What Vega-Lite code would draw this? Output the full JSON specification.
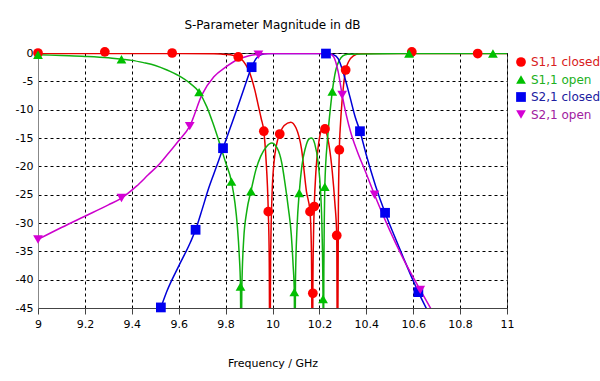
{
  "$schema": "https://vega.github.io/schema/vega-lite/v6.json",
  "width": 469,
  "height": 255,
  "autosize": "none",
  "padding": {"left": 38, "top": 53, "right": 93, "bottom": 73},
  "background": "white",
  "title": {"text": "S-Parameter Magnitude in dB", "anchor": "middle", "offset": 15, "fontSize": 12, "fontWeight": "normal", "font": "DejaVu Sans", "color": "#000"},
  "config": {
    "view": {"stroke": "#555", "strokeWidth": 1},
    "axis": {"labelFont": "DejaVu Sans", "titleFont": "DejaVu Sans", "labelFontSize": 11, "titleFontSize": 11, "titleFontWeight": "normal", "labelColor": "#000", "titleColor": "#000", "gridColor": "#000", "gridDash": [3, 3], "gridOpacity": 1, "gridWidth": 1}
  },
  "datasets": {
    "lines": [
      {"s": "S1,1 closed", "f": 9.0, "db": -0.1}, {"s": "S1,1 closed", "f": 9.3, "db": -0.1}, {"s": "S1,1 closed", "f": 9.6, "db": -0.1},
      {"s": "S1,1 closed", "f": 9.75, "db": -0.15}, {"s": "S1,1 closed", "f": 9.8, "db": -0.25}, {"s": "S1,1 closed", "f": 9.83, "db": -0.4},
      {"s": "S1,1 closed", "f": 9.854, "db": -0.7}, {"s": "S1,1 closed", "f": 9.87, "db": -1.2}, {"s": "S1,1 closed", "f": 9.885, "db": -2.0},
      {"s": "S1,1 closed", "f": 9.9, "db": -3.2}, {"s": "S1,1 closed", "f": 9.911, "db": -4.5}, {"s": "S1,1 closed", "f": 9.925, "db": -6.6},
      {"s": "S1,1 closed", "f": 9.939, "db": -9.2}, {"s": "S1,1 closed", "f": 9.952, "db": -11.6}, {"s": "S1,1 closed", "f": 9.963, "db": -13.8},
      {"s": "S1,1 closed", "f": 9.972, "db": -18.5}, {"s": "S1,1 closed", "f": 9.982, "db": -28}, {"s": "S1,1 closed", "f": 9.986, "db": -36},
      {"s": "S1,1 closed", "f": 9.989, "db": -60}, {"s": "S1,1 closed", "f": 9.992, "db": -36}, {"s": "S1,1 closed", "f": 9.998, "db": -25},
      {"s": "S1,1 closed", "f": 10.006, "db": -19.5}, {"s": "S1,1 closed", "f": 10.017, "db": -16.2}, {"s": "S1,1 closed", "f": 10.031, "db": -14.3},
      {"s": "S1,1 closed", "f": 10.05, "db": -12.8}, {"s": "S1,1 closed", "f": 10.078, "db": -12.2}, {"s": "S1,1 closed", "f": 10.1, "db": -13.2},
      {"s": "S1,1 closed", "f": 10.124, "db": -17}, {"s": "S1,1 closed", "f": 10.145, "db": -24.5}, {"s": "S1,1 closed", "f": 10.16, "db": -28},
      {"s": "S1,1 closed", "f": 10.166, "db": -35}, {"s": "S1,1 closed", "f": 10.1705, "db": -60}, {"s": "S1,1 closed", "f": 10.172, "db": -42.4},
      {"s": "S1,1 closed", "f": 10.175, "db": -32}, {"s": "S1,1 closed", "f": 10.178, "db": -27.1}, {"s": "S1,1 closed", "f": 10.185, "db": -21},
      {"s": "S1,1 closed", "f": 10.195, "db": -16.5}, {"s": "S1,1 closed", "f": 10.205, "db": -14}, {"s": "S1,1 closed", "f": 10.216, "db": -13},
      {"s": "S1,1 closed", "f": 10.224, "db": -13.4}, {"s": "S1,1 closed", "f": 10.24, "db": -16}, {"s": "S1,1 closed", "f": 10.255, "db": -21},
      {"s": "S1,1 closed", "f": 10.266, "db": -26.5}, {"s": "S1,1 closed", "f": 10.274, "db": -32.2}, {"s": "S1,1 closed", "f": 10.277, "db": -60},
      {"s": "S1,1 closed", "f": 10.281, "db": -27}, {"s": "S1,1 closed", "f": 10.285, "db": -17.1}, {"s": "S1,1 closed", "f": 10.29, "db": -12.5},
      {"s": "S1,1 closed", "f": 10.296, "db": -8.8}, {"s": "S1,1 closed", "f": 10.304, "db": -5.3}, {"s": "S1,1 closed", "f": 10.312, "db": -3.0},
      {"s": "S1,1 closed", "f": 10.325, "db": -1.5}, {"s": "S1,1 closed", "f": 10.345, "db": -0.5}, {"s": "S1,1 closed", "f": 10.375, "db": -0.1},
      {"s": "S1,1 closed", "f": 10.7, "db": -0.1}, {"s": "S1,1 closed", "f": 11.0, "db": -0.1},

      {"s": "S1,1 open", "f": 9.0, "db": -0.3}, {"s": "S1,1 open", "f": 9.1, "db": -0.45}, {"s": "S1,1 open", "f": 9.2, "db": -0.6},
      {"s": "S1,1 open", "f": 9.3, "db": -0.85}, {"s": "S1,1 open", "f": 9.356, "db": -1.1}, {"s": "S1,1 open", "f": 9.4, "db": -1.3},
      {"s": "S1,1 open", "f": 9.45, "db": -1.7}, {"s": "S1,1 open", "f": 9.5, "db": -2.2}, {"s": "S1,1 open", "f": 9.55, "db": -3.0},
      {"s": "S1,1 open", "f": 9.6, "db": -4.0}, {"s": "S1,1 open", "f": 9.65, "db": -5.4}, {"s": "S1,1 open", "f": 9.687, "db": -6.9},
      {"s": "S1,1 open", "f": 9.72, "db": -9.5}, {"s": "S1,1 open", "f": 9.747, "db": -12.5}, {"s": "S1,1 open", "f": 9.775, "db": -16},
      {"s": "S1,1 open", "f": 9.8, "db": -19.3}, {"s": "S1,1 open", "f": 9.825, "db": -22.7}, {"s": "S1,1 open", "f": 9.84, "db": -26.5},
      {"s": "S1,1 open", "f": 9.85, "db": -30.5}, {"s": "S1,1 open", "f": 9.858, "db": -35.5}, {"s": "S1,1 open", "f": 9.8635, "db": -41.2},
      {"s": "S1,1 open", "f": 9.866, "db": -60}, {"s": "S1,1 open", "f": 9.869, "db": -42}, {"s": "S1,1 open", "f": 9.877, "db": -33},
      {"s": "S1,1 open", "f": 9.89, "db": -28}, {"s": "S1,1 open", "f": 9.908, "db": -24.4}, {"s": "S1,1 open", "f": 9.93, "db": -20.5},
      {"s": "S1,1 open", "f": 9.95, "db": -18.2}, {"s": "S1,1 open", "f": 9.975, "db": -16.5}, {"s": "S1,1 open", "f": 9.996, "db": -15.9},
      {"s": "S1,1 open", "f": 10.02, "db": -16.8}, {"s": "S1,1 open", "f": 10.04, "db": -19.5}, {"s": "S1,1 open", "f": 10.053, "db": -22.9},
      {"s": "S1,1 open", "f": 10.068, "db": -27.5}, {"s": "S1,1 open", "f": 10.08, "db": -32}, {"s": "S1,1 open", "f": 10.088, "db": -37.5},
      {"s": "S1,1 open", "f": 10.093, "db": -42.2}, {"s": "S1,1 open", "f": 10.095, "db": -60}, {"s": "S1,1 open", "f": 10.098, "db": -40},
      {"s": "S1,1 open", "f": 10.105, "db": -30.5}, {"s": "S1,1 open", "f": 10.114, "db": -24.7}, {"s": "S1,1 open", "f": 10.125, "db": -20},
      {"s": "S1,1 open", "f": 10.14, "db": -16.8}, {"s": "S1,1 open", "f": 10.155, "db": -15.2}, {"s": "S1,1 open", "f": 10.167, "db": -15.0},
      {"s": "S1,1 open", "f": 10.18, "db": -16}, {"s": "S1,1 open", "f": 10.195, "db": -19.5}, {"s": "S1,1 open", "f": 10.205, "db": -24.5},
      {"s": "S1,1 open", "f": 10.211, "db": -31}, {"s": "S1,1 open", "f": 10.2155, "db": -43.4}, {"s": "S1,1 open", "f": 10.217, "db": -60},
      {"s": "S1,1 open", "f": 10.219, "db": -38}, {"s": "S1,1 open", "f": 10.221, "db": -29}, {"s": "S1,1 open", "f": 10.223, "db": -23.6},
      {"s": "S1,1 open", "f": 10.235, "db": -15}, {"s": "S1,1 open", "f": 10.245, "db": -10.5}, {"s": "S1,1 open", "f": 10.255, "db": -6.8},
      {"s": "S1,1 open", "f": 10.27, "db": -3.0}, {"s": "S1,1 open", "f": 10.285, "db": -1.3}, {"s": "S1,1 open", "f": 10.3, "db": -0.5},
      {"s": "S1,1 open", "f": 10.32, "db": -0.2}, {"s": "S1,1 open", "f": 10.6, "db": -0.1}, {"s": "S1,1 open", "f": 11.0, "db": -0.1},

      {"s": "S2,1 closed", "f": 9.51, "db": -46.5}, {"s": "S2,1 closed", "f": 9.524, "db": -44.9}, {"s": "S2,1 closed", "f": 9.55, "db": -42},
      {"s": "S2,1 closed", "f": 9.6, "db": -37.6}, {"s": "S2,1 closed", "f": 9.65, "db": -33.4}, {"s": "S2,1 closed", "f": 9.672, "db": -31.2},
      {"s": "S2,1 closed", "f": 9.7, "db": -27.6}, {"s": "S2,1 closed", "f": 9.726, "db": -24.1}, {"s": "S2,1 closed", "f": 9.75, "db": -21.3},
      {"s": "S2,1 closed", "f": 9.789, "db": -16.8}, {"s": "S2,1 closed", "f": 9.82, "db": -13.2}, {"s": "S2,1 closed", "f": 9.85, "db": -9.7},
      {"s": "S2,1 closed", "f": 9.88, "db": -6.1}, {"s": "S2,1 closed", "f": 9.911, "db": -2.5}, {"s": "S2,1 closed", "f": 9.93, "db": -1.0},
      {"s": "S2,1 closed", "f": 9.95, "db": -0.3}, {"s": "S2,1 closed", "f": 9.98, "db": -0.1}, {"s": "S2,1 closed", "f": 10.228, "db": -0.1},
      {"s": "S2,1 closed", "f": 10.26, "db": -0.3}, {"s": "S2,1 closed", "f": 10.28, "db": -1.0}, {"s": "S2,1 closed", "f": 10.302, "db": -3.5},
      {"s": "S2,1 closed", "f": 10.33, "db": -7.7}, {"s": "S2,1 closed", "f": 10.352, "db": -11.2}, {"s": "S2,1 closed", "f": 10.373, "db": -13.8},
      {"s": "S2,1 closed", "f": 10.4, "db": -18}, {"s": "S2,1 closed", "f": 10.44, "db": -23.5}, {"s": "S2,1 closed", "f": 10.48, "db": -28.2},
      {"s": "S2,1 closed", "f": 10.52, "db": -32.3}, {"s": "S2,1 closed", "f": 10.56, "db": -36.3}, {"s": "S2,1 closed", "f": 10.6, "db": -40.2},
      {"s": "S2,1 closed", "f": 10.622, "db": -42.2}, {"s": "S2,1 closed", "f": 10.67, "db": -46.2},

      {"s": "S2,1 open", "f": 9.0, "db": -32.9}, {"s": "S2,1 open", "f": 9.1, "db": -30.8}, {"s": "S2,1 open", "f": 9.2, "db": -28.8},
      {"s": "S2,1 open", "f": 9.3, "db": -26.8}, {"s": "S2,1 open", "f": 9.356, "db": -25.6}, {"s": "S2,1 open", "f": 9.42, "db": -23.5},
      {"s": "S2,1 open", "f": 9.47, "db": -21.5}, {"s": "S2,1 open", "f": 9.52, "db": -19.5}, {"s": "S2,1 open", "f": 9.56, "db": -17.5},
      {"s": "S2,1 open", "f": 9.6, "db": -15.5}, {"s": "S2,1 open", "f": 9.647, "db": -12.9}, {"s": "S2,1 open", "f": 9.7, "db": -7.3},
      {"s": "S2,1 open", "f": 9.75, "db": -4.2}, {"s": "S2,1 open", "f": 9.8, "db": -2.5}, {"s": "S2,1 open", "f": 9.85, "db": -1.2},
      {"s": "S2,1 open", "f": 9.9, "db": -0.5}, {"s": "S2,1 open", "f": 9.94, "db": -0.2}, {"s": "S2,1 open", "f": 10.0, "db": -0.1},
      {"s": "S2,1 open", "f": 10.24, "db": -0.1}, {"s": "S2,1 open", "f": 10.26, "db": -0.6}, {"s": "S2,1 open", "f": 10.28, "db": -3.3},
      {"s": "S2,1 open", "f": 10.297, "db": -7.4}, {"s": "S2,1 open", "f": 10.315, "db": -11}, {"s": "S2,1 open", "f": 10.335, "db": -14.2},
      {"s": "S2,1 open", "f": 10.36, "db": -17.2}, {"s": "S2,1 open", "f": 10.4, "db": -21.3}, {"s": "S2,1 open", "f": 10.435, "db": -25},
      {"s": "S2,1 open", "f": 10.5, "db": -31.3}, {"s": "S2,1 open", "f": 10.56, "db": -36.5}, {"s": "S2,1 open", "f": 10.63, "db": -41.8},
      {"s": "S2,1 open", "f": 10.69, "db": -46.2}
    ],
    "markers": [
      {"s": "S1,1 closed", "f": 9.0, "db": 0}, {"s": "S1,1 closed", "f": 9.285, "db": 0.2}, {"s": "S1,1 closed", "f": 9.572, "db": 0},
      {"s": "S1,1 closed", "f": 9.854, "db": -0.7}, {"s": "S1,1 closed", "f": 9.963, "db": -13.8}, {"s": "S1,1 closed", "f": 9.982, "db": -28},
      {"s": "S1,1 closed", "f": 10.031, "db": -14.3}, {"s": "S1,1 closed", "f": 10.16, "db": -28}, {"s": "S1,1 closed", "f": 10.172, "db": -42.4},
      {"s": "S1,1 closed", "f": 10.178, "db": -27.1}, {"s": "S1,1 closed", "f": 10.224, "db": -13.4}, {"s": "S1,1 closed", "f": 10.274, "db": -32.2},
      {"s": "S1,1 closed", "f": 10.285, "db": -17.1}, {"s": "S1,1 closed", "f": 10.312, "db": -3.0}, {"s": "S1,1 closed", "f": 10.594, "db": 0.2},
      {"s": "S1,1 closed", "f": 10.875, "db": -0.1},
      {"s": "S1,1 open", "f": 9.0, "db": -0.3}, {"s": "S1,1 open", "f": 9.356, "db": -1.1}, {"s": "S1,1 open", "f": 9.687, "db": -6.9},
      {"s": "S1,1 open", "f": 9.825, "db": -22.7}, {"s": "S1,1 open", "f": 9.8635, "db": -41.2}, {"s": "S1,1 open", "f": 9.908, "db": -24.4},
      {"s": "S1,1 open", "f": 10.093, "db": -42.2}, {"s": "S1,1 open", "f": 10.114, "db": -24.7}, {"s": "S1,1 open", "f": 10.2155, "db": -43.4},
      {"s": "S1,1 open", "f": 10.223, "db": -23.6}, {"s": "S1,1 open", "f": 10.255, "db": -6.8}, {"s": "S1,1 open", "f": 10.582, "db": -0.1},
      {"s": "S1,1 open", "f": 10.94, "db": -0.1},
      {"s": "S2,1 closed", "f": 9.524, "db": -44.9}, {"s": "S2,1 closed", "f": 9.672, "db": -31.2}, {"s": "S2,1 closed", "f": 9.789, "db": -16.8},
      {"s": "S2,1 closed", "f": 9.911, "db": -2.5}, {"s": "S2,1 closed", "f": 10.228, "db": -0.1}, {"s": "S2,1 closed", "f": 10.373, "db": -13.8},
      {"s": "S2,1 closed", "f": 10.48, "db": -28.2}, {"s": "S2,1 closed", "f": 10.622, "db": -42.2},
      {"s": "S2,1 open", "f": 9.0, "db": -32.9}, {"s": "S2,1 open", "f": 9.356, "db": -25.6}, {"s": "S2,1 open", "f": 9.647, "db": -12.9},
      {"s": "S2,1 open", "f": 9.94, "db": -0.3}, {"s": "S2,1 open", "f": 10.297, "db": -7.4}, {"s": "S2,1 open", "f": 10.435, "db": -25},
      {"s": "S2,1 open", "f": 10.63, "db": -41.8}
    ]
  },
  "encoding": {
    "x": {"field": "f", "type": "quantitative", "scale": {"domain": [9, 11], "nice": false, "zero": false},
      "axis": {"title": "Frequency / GHz", "values": [9, 9.2, 9.4, 9.6, 9.8, 10, 10.2, 10.4, 10.6, 10.8, 11], "labelExpr": "'' + datum.value", "labelFlush": false, "domainColor": "#444", "tickColor": "#444", "tickSize": 6, "labelPadding": 4, "titlePadding": 28}},
    "y": {"field": "db", "type": "quantitative", "scale": {"domain": [-45, 0], "nice": false, "zero": false},
      "axis": {"title": null, "values": [-45, -40, -35, -30, -25, -20, -15, -10, -5, 0], "labelExpr": "'' + datum.value", "ticks": false, "labelPadding": 5, "domainColor": "#888", "labelFlush": false}}
  },
  "layer": [
    {
      "data": {"name": "markers"},
      "mark": {"type": "point", "filled": true, "opacity": 1, "size": 0},
      "encoding": {
        "color": {"field": "s", "type": "nominal", "scale": {"domain": ["S1,1 closed", "S1,1 open", "S2,1 closed", "S2,1 open"], "range": ["#ff0000", "#00c000", "#0000f0", "#d400d4"]},
          "legend": {"title": null, "orient": "none", "legendX": 477, "legendY": 3, "padding": 0, "rowPadding": 5.5, "symbolSize": 95, "symbolOpacity": 1, "symbolStrokeWidth": 0, "labelFont": "DejaVu Sans", "labelFontSize": 12, "labelOffset": 4,
            "encode": {"labels": {"update": {"fill": {"signal": "datum.value == 'S1,1 closed' ? '#d82020' : datum.value == 'S1,1 open' ? '#20b020' : datum.value == 'S2,1 closed' ? '#2020a0' : '#a020a0'"}}}}}},
        "shape": {"field": "s", "type": "nominal", "scale": {"domain": ["S1,1 closed", "S1,1 open", "S2,1 closed", "S2,1 open"], "range": ["circle", "triangle-up", "square", "triangle-down"]},
          "legend": {"title": null, "orient": "none", "legendX": 477, "legendY": 3}}
      }
    },
    {
      "data": {"name": "lines"},
      "mark": {"type": "line", "clip": true, "strokeWidth": 1.5, "interpolate": "monotone"},
      "encoding": {"stroke": {"field": "s", "type": "nominal", "legend": null, "scale": {"domain": ["S1,1 closed", "S1,1 open", "S2,1 closed", "S2,1 open"], "range": ["#e60000", "#10b010", "#0000d8", "#cc00cc"]}}}
    },
    {
      "data": {"name": "markers"},
      "mark": {"type": "point", "filled": true, "opacity": 1, "size": 95},
      "encoding": {
        "color": {"field": "s", "type": "nominal", "legend": null},
        "shape": {"field": "s", "type": "nominal", "legend": null}
      }
    }
  ]
}
